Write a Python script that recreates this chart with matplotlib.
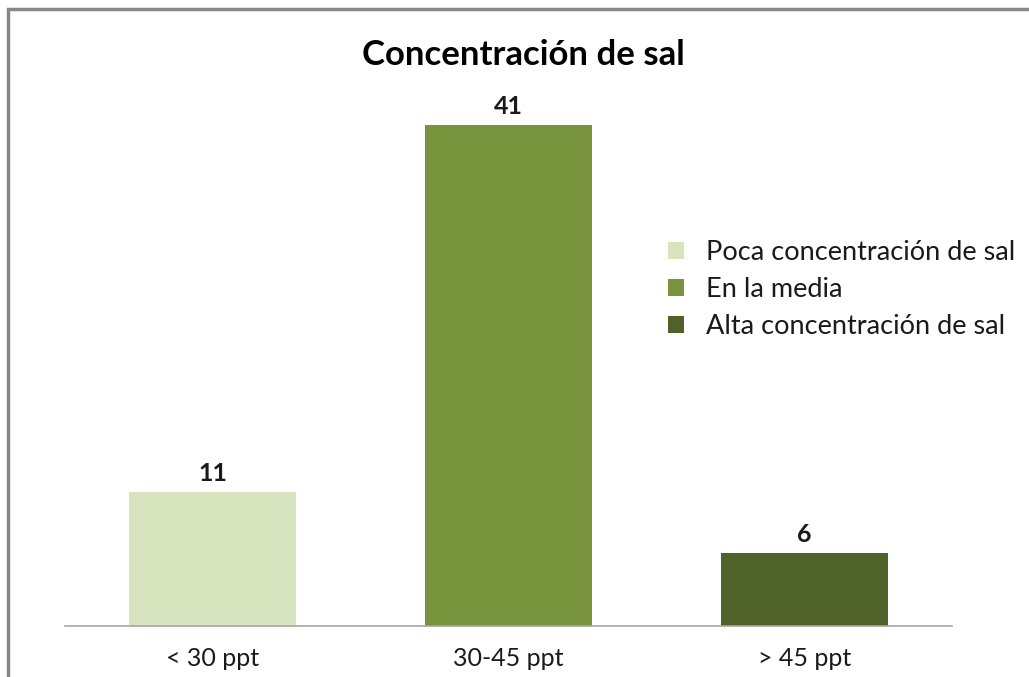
import matplotlib
matplotlib.use("Agg")
import matplotlib.pyplot as plt
from matplotlib.patches import Rectangle, Patch

categories = ["< 30 ppt", "30-45 ppt", "> 45 ppt"]
values = [11, 41, 6]
series_names = ["Poca concentración de sal", "En la media", "Alta concentración de sal"]
colors = ["#D7E4BD", "#77933C", "#4F6228"]
title = "Concentración de sal"

plt.rcParams['font.family'] = ['Lato', 'DejaVu Sans']

W, H = 1029, 677
fig = plt.figure(figsize=(W / 100, H / 100), dpi=100)

# chart border (cropped on right/bottom)
fig.patches.append(Rectangle((8 / W, -0.1), 1.2, 1 - 9 / H + 0.1, transform=fig.transFigure,
                             fill=False, edgecolor="#888888", linewidth=2.5))

ax_left, ax_right = 65, 952
ax_bottom = 626
ax_top = 76
ax = fig.add_axes([ax_left / W, 1 - ax_bottom / H, (ax_right - ax_left) / W, (ax_bottom - ax_top) / H])

x = range(len(categories))
bars = ax.bar(x, values, width=0.565, color=colors, label=series_names)
ax.set_xlim(-0.5, len(categories) - 0.5)
ax.set_ylim(0, 45)
for s in ["top", "right", "left"]:
    ax.spines[s].set_visible(False)
ax.spines["bottom"].set_color("#A6A6A6")
ax.spines["bottom"].set_linewidth(1.2)
ax.set_yticks([])
ax.set_xticks(list(x))
ax.set_xticklabels(categories, fontsize=18, color="#1a1a1a")
ax.tick_params(axis="x", length=0, pad=15)

for b, v in zip(bars, values):
    ax.annotate(str(v), (b.get_x() + b.get_width() / 2, v), xytext=(0, 5),
                textcoords="offset points", ha="center", va="bottom",
                fontsize=18, fontweight="bold", color="#1a1a1a")

fig.text(523 / W, 1 - 55 / H, title, ha="center", va="center", fontsize=25,
         fontweight="bold", color="#000000")

handles = [Patch(facecolor=c, edgecolor="none") for c in colors]
leg = fig.legend(handles, series_names, loc="upper left",
                 bbox_to_anchor=(657 / W, 1 - 229 / H), frameon=False,
                 fontsize=19.5, handlelength=0.6, handleheight=0.6,
                 handletextpad=0.8, labelspacing=0.45, borderaxespad=0)
for t in leg.get_texts():
    t.set_color("#1a1a1a")

fig.savefig("out.png", dpi=100, facecolor="white")
